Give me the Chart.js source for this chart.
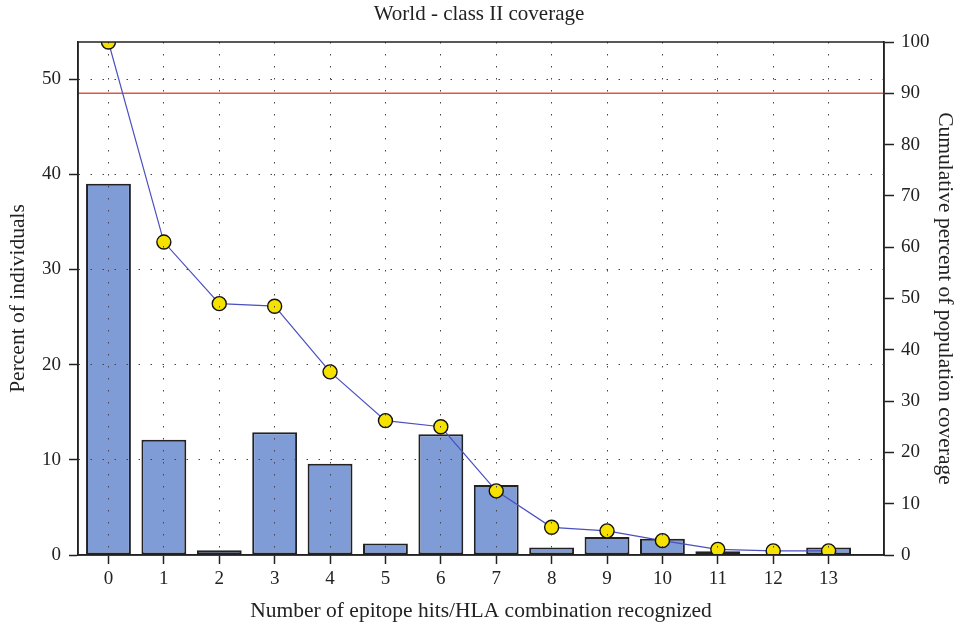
<!DOCTYPE html>
<html>
<head>
<meta charset="utf-8">
<script src="https://cdn.jsdelivr.net/npm/chart.js@4/dist/chart.umd.min.js"></script>
<style>
  html, body { margin: 0; padding: 0; background: #fff; }
  #wrap { width: 958px; height: 624px; }
</style>
</head>
<body>
<div id="wrap"><canvas id="myChart"></canvas></div>
<script>
const hits = [0, 1, 2, 3, 4, 5, 6, 7, 8, 9, 10, 11, 12, 13];
const percentIndividuals = [39.0, 12.1, 0.5, 12.9, 9.6, 1.2, 12.7, 7.35, 0.8, 1.9, 1.7, 0.4, 0.0, 0.8];
const cumulativeCoverage = [100, 61.0, 49.0, 48.5, 35.7, 26.2, 25.0, 12.5, 5.4, 4.7, 2.8, 1.1, 0.8, 0.8];
const leftTicks = [0, 10, 20, 30, 40, 50];
const rightTicks = [0, 10, 20, 30, 40, 50, 60, 70, 80, 90, 100];
const threshold = 90;

const fontFamily = '"Liberation Serif", "DejaVu Serif", serif';
Chart.defaults.font.family = fontFamily;
Chart.defaults.font.size = 19;
Chart.defaults.color = '#222';

// box around plot + 90% reference line
const framePlugin = {
    id: 'frame',
    beforeDatasetsDraw(chart) {
        const {ctx, chartArea: a} = chart;
        const y = chart.scales.y1.getPixelForValue(threshold);
        ctx.save();
        ctx.strokeStyle = '#e0574a';
        ctx.lineWidth = 1.5;
        ctx.beginPath();
        ctx.moveTo(a.left, y);
        ctx.lineTo(a.right, y);
        ctx.stroke();
        ctx.restore();
    },
    afterDraw(chart) {
        const {ctx, chartArea: a} = chart;
        ctx.save();
        ctx.strokeStyle = '#222';
        ctx.lineWidth = 1.5;
        ctx.strokeRect(a.left, a.top, a.right - a.left, a.bottom - a.top);
        ctx.restore();
    }
};

window.onload = () => {
    const ctx = document.getElementById('myChart');

    new Chart(ctx, {
        type: 'bar',
        data: {
            datasets: [{
                type: 'line',
                label: 'Cumulative',
                data: hits.map((h, i) => ({x: h, y: cumulativeCoverage[i]})),
                yAxisID: 'y1',
                borderColor: '#4b4fbf',
                borderWidth: 1.2,
                pointBackgroundColor: '#f5e200',
                pointBorderColor: '#111',
                pointBorderWidth: 1.4,
                pointRadius: 7,
                tension: 0,
                clip: 0,
                order: 0
            }, {
                type: 'bar',
                label: 'Percent',
                data: hits.map((h, i) => ({x: h, y: percentIndividuals[i]})),
                yAxisID: 'y',
                backgroundColor: '#809cd6',
                borderColor: '#222',
                borderWidth: 2,
                borderSkipped: false,
                categoryPercentage: 1,
                barPercentage: 0.81,
                order: 1
            }]
        },
        options: {
            responsive: true,
            maintainAspectRatio: false,
            animation: false,
            layout: { padding: 0 },
            plugins: {
                legend: { display: false },
                tooltip: { enabled: false },
                title: {
                    display: true,
                    text: 'World - class II coverage',
                    font: { size: 21, weight: 'normal' },
                    color: '#222',
                    padding: { top: 2, bottom: 14.8 }
                }
            },
            scales: {
                x: {
                    type: 'linear',
                    offset: false,
                    min: -0.55,
                    max: 14,
                    afterBuildTicks: (s) => { s.ticks = hits.map(v => ({value: v})); },
                    afterFit: (s) => { s.height = 69; },
                    ticks: { padding: 4, font: { size: 19 }, color: '#222' },
                    border: { display: true, z: 2, color: '#222', width: 1.5, dash: [1.5, 10.5] },
                    grid: {
                        offset: false,
                        z: 1,
                        color: '#444',
                        lineWidth: 1,
                        tickColor: '#222',
                        tickLength: 9,
                        tickWidth: 1.5
                    },
                    title: {
                        display: true,
                        text: 'Number of epitope hits/HLA combination recognized',
                        font: { size: 21.5 },
                        color: '#222',
                        padding: { top: 0, bottom: 0 }
                    }
                },
                y: {
                    position: 'left',
                    min: 0,
                    max: 53.9,
                    afterBuildTicks: (s) => { s.ticks = leftTicks.map(v => ({value: v})); },
                    afterFit: (s) => { s.width = 78; },
                    ticks: { padding: 8, font: { size: 19 }, color: '#222' },
                    border: { display: true, z: 2, color: '#222', width: 1.5, dash: [1.5, 10.5] },
                    grid: {
                        z: 1,
                        color: (c) => c.tick && c.tick.value === 0 ? 'rgba(0,0,0,0)' : '#444',
                        lineWidth: 1,
                        tickColor: '#222',
                        tickLength: 9,
                        tickWidth: 1.5
                    },
                    title: {
                        display: true,
                        text: 'Percent of individuals',
                        font: { size: 21.5 },
                        color: '#222',
                        padding: { top: 5, bottom: 0 }
                    }
                },
                y1: {
                    position: 'right',
                    min: 0,
                    max: 100,
                    afterBuildTicks: (s) => { s.ticks = rightTicks.map(v => ({value: v})); },
                    afterFit: (s) => { s.width = 74; },
                    ticks: { padding: 7, font: { size: 19 }, color: '#222' },
                    border: { display: true, color: '#222', width: 1.5 },
                    grid: {
                        drawOnChartArea: false,
                        tickColor: '#222',
                        tickLength: 10,
                        tickWidth: 1.5
                    },
                    title: {
                        display: true,
                        text: 'Cumulative percent of population coverage',
                        font: { size: 21.5 },
                        color: '#222',
                        padding: { top: 0, bottom: 0 }
                    }
                }
            }
        },
        plugins: [framePlugin]
    });
};
</script>
</body>
</html>
